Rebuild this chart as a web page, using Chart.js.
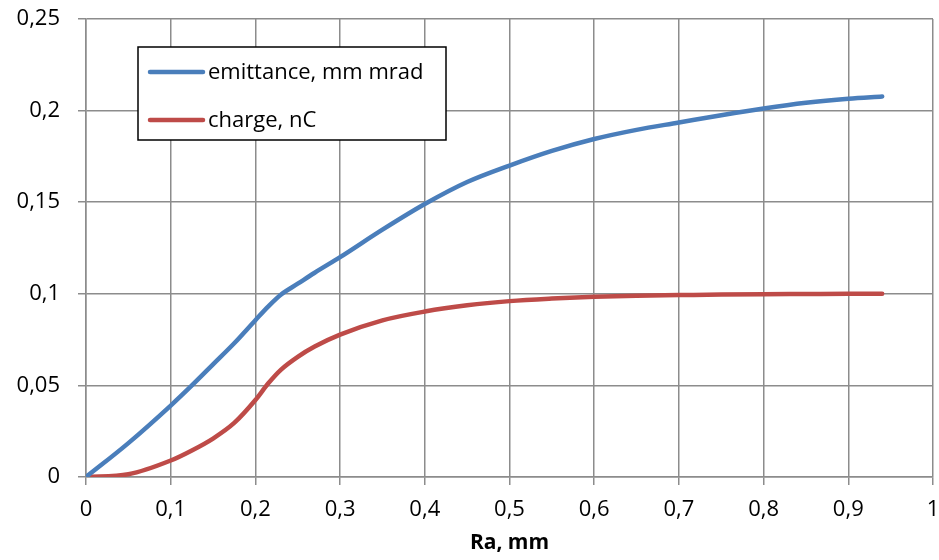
<!DOCTYPE html>
<html lang="en">
<head>
  <meta charset="UTF-8">
  <title>Emittance and charge vs Ra</title>
  <script src="https://cdn.jsdelivr.net/npm/chart.js"></script>
  <style>
    html, body { margin: 0; padding: 0; background: #fff; }
    #wrap { width: 939px; height: 560px; }
  </style>
</head>
<body>
  <div id="wrap"><canvas id="chart"></canvas></div>

  <script>
    const ra = [0, 0.05, 0.1, 0.125, 0.15, 0.175, 0.2, 0.215, 0.23, 0.25, 0.27, 0.3, 0.35, 0.4, 0.45, 0.5, 0.55, 0.6, 0.65, 0.7, 0.75, 0.8, 0.85, 0.9, 0.94];
    const emittance = [0, 0.0185, 0.039, 0.050, 0.0615, 0.073, 0.0856, 0.093, 0.0995, 0.1055, 0.1115, 0.120, 0.135, 0.149, 0.161, 0.170, 0.178, 0.1845, 0.1895, 0.1935, 0.1975, 0.2012, 0.2043, 0.2065, 0.2077];
    const charge = [0, 0.0015, 0.009, 0.0145, 0.021, 0.0295, 0.042, 0.051, 0.0585, 0.0656, 0.0712, 0.0777, 0.0855, 0.0903, 0.0937, 0.096, 0.0974, 0.0984, 0.099, 0.0993, 0.0996, 0.0998, 0.0999, 0.1, 0.1];
    const seriesNames = ['emittance, mm mrad', 'charge, nC'];
    const seriesColors = ['#4a7ebb', '#be4b48'];

    const FONT = '"Open Sans", "Liberation Sans", sans-serif';
    const comma = v => String(Math.round(v * 100) / 100).replace('.', ',');

    // legend box sitting inside the plot area, top left
    const boxLegend = {
      id: 'boxLegend',
      afterDraw(chart) {
        const ctx = chart.ctx;
        const x = 138, y = 47, w = 308, h = 93;
        ctx.save();
        ctx.fillStyle = '#fff';
        ctx.fillRect(x, y, w, h);
        ctx.strokeStyle = '#000';
        ctx.lineWidth = 1.5;
        ctx.strokeRect(x, y, w, h);
        ctx.font = '22px ' + FONT;
        ctx.textBaseline = 'middle';
        chart.data.datasets.forEach((ds, i) => {
          const ly = y + 25 + i * 48;
          ctx.strokeStyle = ds.borderColor;
          ctx.lineWidth = 4.5;
          ctx.lineCap = 'round';
          ctx.beginPath();
          ctx.moveTo(x + 12, ly);
          ctx.lineTo(x + 65, ly);
          ctx.stroke();
          ctx.fillStyle = '#000';
          ctx.fillText(ds.label, x + 70, ly + 1);
        });
        ctx.restore();
      }
    };

    // keep label overhang from shrinking the plot area
    const noOverhang = s => { s.paddingTop = 0; s.paddingRight = 0; s.paddingLeft = 0; s.paddingBottom = 0; };

    new Chart(document.getElementById('chart'), {
      type: 'line',
      data: {
        datasets: [
          { label: seriesNames[0], data: ra.map((x, i) => ({ x, y: emittance[i] })), borderColor: seriesColors[0] },
          { label: seriesNames[1], data: ra.map((x, i) => ({ x, y: charge[i] })), borderColor: seriesColors[1] }
        ]
      },
      options: {
        responsive: true,
        maintainAspectRatio: false,
        animation: false,
        layout: { padding: { left: 0, top: 19, right: 6, bottom: 0 } },
        elements: {
          point: { radius: 0 },
          line: { borderWidth: 4.5, cubicInterpolationMode: 'monotone', borderCapStyle: 'round' }
        },
        plugins: { legend: { display: false }, tooltip: { enabled: false } },
        scales: {
          x: {
            type: 'linear', min: 0, max: 1,
            afterFit(s) { s.height = 83; noOverhang(s); },
            grid: { color: '#8c8c8c', lineWidth: 1.5, tickLength: 8 },
            border: { color: '#8c8c8c', width: 1.5 },
            ticks: { stepSize: 0.1, color: '#000', padding: 12, maxRotation: 0, font: { family: FONT, size: 22 }, callback: comma },
            title: { display: true, text: 'Ra, mm', color: '#000', padding: { top: 2 }, font: { family: FONT, size: 21, weight: 'bold' } }
          },
          y: {
            min: 0, max: 0.25,
            afterFit(s) { s.width = 86; noOverhang(s); },
            grid: { color: '#8c8c8c', lineWidth: 1.5, tickLength: 8 },
            border: { color: '#8c8c8c', width: 1.5 },
            ticks: { stepSize: 0.05, color: '#000', padding: 18, font: { family: FONT, size: 22 }, callback: comma }
          }
        }
      },
      plugins: [boxLegend]
    });
  </script>
</body>
</html>
